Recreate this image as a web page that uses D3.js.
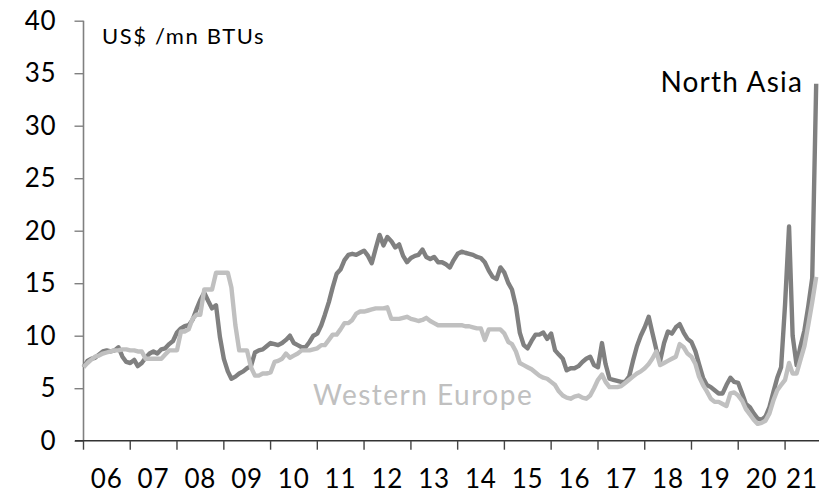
<!DOCTYPE html>
<html>
<head>
<meta charset="utf-8">
<script src="https://cdn.jsdelivr.net/npm/d3@7"></script>
<style>
  html, body { margin: 0; padding: 0; background: #fff; }
  svg { display: block; }
  text { font-family: Lato, "Open Sans", sans-serif; }
</style>
</head>
<body>
<svg id="chart" width="819" height="494"></svg>
<script>
// ---- Data (monthly, Jan 2006 - Sep 2021), US$ / mn BTUs ----
const startYear = 2006;
const northAsia = [
  // 2006
  7.0, 7.6, 7.8, 7.9, 8.2, 8.5, 8.6, 8.5, 8.6, 8.9, 8.0, 7.5,
  // 2007
  7.4, 7.7, 7.1, 7.4, 7.9, 8.3, 8.5, 8.3, 8.7, 8.8, 9.2, 9.5,
  // 2008
  10.3, 10.7, 10.9, 11.0, 11.5, 12.5, 13.4, 14.1, 13.3, 12.6, 12.9, 9.9,
  // 2009
  7.8, 6.6, 5.9, 6.1, 6.4, 6.6, 6.9, 7.1, 8.4, 8.6, 8.7, 9.0,
  // 2010
  9.3, 9.2, 9.1, 9.3, 9.6, 10.0, 9.3, 9.1, 8.9, 8.9, 9.4, 10.0,
  // 2011
  10.2, 11.0, 12.0, 13.2, 14.6, 15.9, 16.3, 17.2, 17.7, 17.8, 17.7, 17.9,
  // 2012
  18.1, 17.6, 16.9, 18.3, 19.6, 18.6, 19.4, 19.0, 18.4, 18.7, 17.6, 17.0,
  // 2013
  17.4, 17.6, 17.7, 18.2, 17.5, 17.3, 17.5, 17.0, 17.0, 16.8, 16.5, 17.2,
  // 2014
  17.8, 18.0, 17.9, 17.8, 17.7, 17.5, 17.4, 17.0, 16.2, 15.6, 15.4, 16.5,
  // 2015
  16.0, 15.0, 14.4, 12.8, 10.3, 9.1, 8.8, 9.5, 10.1, 10.1, 10.3, 9.7,
  // 2016
  10.2, 8.6, 8.2, 7.8, 6.7, 6.9, 6.9, 7.1, 7.5, 7.8, 8.0, 7.2,
  // 2017
  7.0, 9.3, 7.3, 5.9, 5.8, 5.7, 5.6, 5.6, 6.1, 7.6, 9.0, 10.0,
  // 2018
  10.8, 11.8, 10.3, 8.7, 7.6, 9.3, 10.4, 10.2, 10.8, 11.1, 10.3, 9.7,
  // 2019
  9.4, 8.5, 7.3, 6.0, 5.3, 5.1, 4.8, 4.5, 4.5, 5.3, 6.0, 5.6,
  // 2020
  5.5, 4.5, 3.5, 3.2, 2.6, 2.1, 2.0, 2.3, 3.2, 4.6, 6.0, 7.0,
  // 2021
  13.0, 20.4, 10.0, 7.2, 9.0, 10.5, 12.8, 15.5, 34.0
];
const westernEurope = [
  // 2006
  7.0, 7.4, 7.7, 8.0, 8.1, 8.3, 8.4, 8.5, 8.6, 8.6, 8.7, 8.7,
  // 2007
  8.6, 8.6, 8.5, 8.5, 7.8, 7.8, 7.8, 7.8, 7.8, 8.2, 8.6, 8.6,
  // 2008
  8.6, 10.4, 10.4, 10.6, 11.6, 12.0, 12.0, 14.4, 14.4, 14.4, 16.0, 16.0,
  // 2009
  16.0, 16.0, 14.6, 11.0, 8.6, 8.6, 8.6, 7.0, 6.2, 6.2, 6.4, 6.4,
  // 2010
  6.5, 7.5, 7.6, 7.8, 8.3, 7.9, 8.1, 8.3, 8.6, 8.6, 8.6, 8.7,
  // 2011
  8.8, 9.1, 9.1, 9.6, 10.1, 10.1, 10.6, 11.2, 11.2, 11.5, 12.1, 12.3,
  // 2012
  12.3, 12.4, 12.5, 12.6, 12.6, 12.6, 12.7, 11.6, 11.6, 11.6, 11.7, 11.8,
  // 2013
  11.6, 11.5, 11.4, 11.5, 11.7, 11.4, 11.2, 11.0, 11.0, 11.0, 11.0, 11.0,
  // 2014
  11.0, 11.0, 10.9, 10.9, 10.8, 10.7, 10.7, 9.6, 10.6, 10.6, 10.6, 10.6,
  // 2015
  10.2, 9.4, 9.2, 8.5, 7.4, 7.2, 7.0, 6.8, 6.5, 6.2, 6.0, 5.9,
  // 2016
  5.6, 5.3, 4.7, 4.3, 4.1, 4.0, 4.2, 4.3, 4.1, 4.0, 4.3, 5.0,
  // 2017
  5.8, 6.3, 5.6, 5.1, 5.1, 5.1, 5.2, 5.5, 5.8, 6.1, 6.4, 6.6,
  // 2018
  6.9, 7.3, 7.8, 8.5, 7.2, 7.4, 7.6, 7.8, 8.0, 9.2, 8.9, 8.3,
  // 2019
  8.0, 7.3, 6.1, 5.3, 4.7, 4.0, 3.7, 3.7, 3.5, 3.3, 4.5, 4.6,
  // 2020
  4.3, 3.8, 3.0, 2.5, 2.0, 1.6, 1.7, 1.9, 2.6, 3.8, 4.8, 5.3,
  // 2021
  5.8, 7.4, 6.4, 6.4, 7.7, 9.0, 11.0, 13.2, 15.6
];
const yTicks = [0, 5, 10, 15, 20, 25, 30, 35, 40];
const yearLabels = ["06","07","08","09","10","11","12","13","14","15","16","17","18","19","20","21"];
const unitLabel = "US$ /mn BTUs";
const seriesNames = ["North Asia", "Western Europe"];

// ---- Layout ----
const svg = d3.select("#chart");
const x0 = 83.5, yearW = 46.77;
const x = d3.scaleTime()
  .domain([new Date(2006, 0, 1), new Date(2022, 0, 1)])
  .range([x0, x0 + 16 * yearW]);
const y = d3.scaleLinear().domain([0, 40]).range([440.7, 20.7]);

const dates = d3.range(northAsia.length).map(i => new Date(startYear, i, 1));

// Y axis
const yAxis = svg.append("g").attr("transform", `translate(${x0},0)`)
  .call(d3.axisLeft(y).tickValues(yTicks).tickSize(9).tickPadding(18).tickFormat(d3.format("d")));
yAxis.select(".domain").attr("stroke", "#808080").attr("stroke-width", 1.6)
  .attr("d", `M0,${y(40)}V${y(0)}`);
yAxis.selectAll(".tick line").attr("stroke", "#808080").attr("stroke-width", 1.4);
yAxis.selectAll(".tick text").attr("font-size", 26).attr("fill", "#000")
  .attr("font-family", "Lato, sans-serif").attr("letter-spacing", 0.8);

// X axis
const yearStarts = d3.range(2006, 2022).map(yr => new Date(yr, 0, 1));
const xg = svg.append("g").attr("transform", `translate(0,${y(0)})`);
xg.append("line").attr("x1", 75).attr("x2", 819).attr("y1", 0).attr("y2", 0)
  .attr("stroke", "#333").attr("stroke-width", 1.4);
xg.selectAll("line.tick").data(yearStarts).join("line").attr("class", "tick")
  .attr("x1", d => x(d)).attr("x2", d => x(d)).attr("y1", 0).attr("y2", 9)
  .attr("stroke", "#444").attr("stroke-width", 1.4);
xg.selectAll("text.yl").data(yearLabels).join("text").attr("class", "yl")
  .attr("x", (d, i) => Math.min(x(new Date(2006 + i, 6, 1)), 802))
  .attr("y", 47.5)
  .attr("text-anchor", "middle").attr("font-size", 26).attr("fill", "#000")
  .attr("letter-spacing", 0.8)
  .text(d => d);

// Lines
const line = d3.line().x((d, i) => x(dates[i])).y(d => y(d)).curve(d3.curveLinear);
svg.append("path").datum(northAsia).attr("d", line)
  .attr("fill", "none").attr("stroke", "#808080").attr("stroke-width", 4.4)
  .attr("stroke-linejoin", "round");
svg.append("path").datum(westernEurope).attr("d", line)
  .attr("fill", "none").attr("stroke", "#c0c0c0").attr("stroke-width", 4.4)
  .attr("stroke-linejoin", "round");

// Labels
svg.append("text").attr("x", 102).attr("y", 44).attr("font-size", 22)
  .attr("letter-spacing", 1.6).attr("fill", "#000").text(unitLabel);
svg.append("text").attr("x", 803).attr("y", 92).attr("text-anchor", "end")
  .attr("font-size", 28).attr("letter-spacing", 1.2).attr("fill", "#000").text(seriesNames[0]);
svg.append("text").attr("x", 313).attr("y", 405)
  .attr("font-size", 28).attr("letter-spacing", 1.5).attr("fill", "#c0c0c0").text(seriesNames[1]);
</script>
</body>
</html>
